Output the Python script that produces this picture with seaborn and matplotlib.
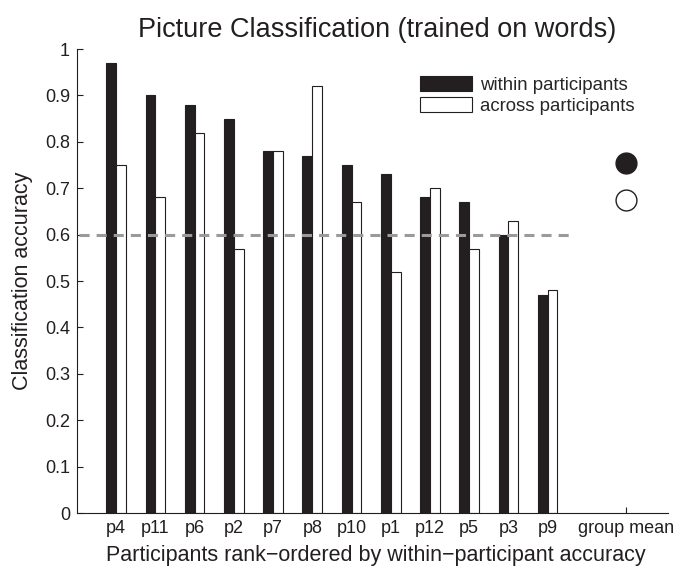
import matplotlib
matplotlib.use("Agg")
import matplotlib.pyplot as plt
import numpy as np
import pandas as pd
import seaborn as sns

participants = ["p4", "p11", "p6", "p2", "p7", "p8", "p10", "p1", "p12", "p5", "p3", "p9"]
within = [0.97, 0.90, 0.88, 0.85, 0.78, 0.77, 0.75, 0.73, 0.68, 0.67, 0.60, 0.47]
across = [0.75, 0.68, 0.82, 0.57, 0.78, 0.92, 0.67, 0.52, 0.70, 0.57, 0.63, 0.48]
group_mean_within = 0.754
group_mean_across = 0.674
chance = 0.6
series_labels = ["within participants", "across participants"]
yticks = [0, 0.1, 0.2, 0.3, 0.4, 0.5, 0.6, 0.7, 0.8, 0.9, 1]
ytick_labels = ["0", "0.1", "0.2", "0.3", "0.4", "0.5", "0.6", "0.7", "0.8", "0.9", "1"]
group_label = "group mean"

sns.set_style("white")
plt.rcParams["font.family"] = ["Liberation Sans", "DejaVu Sans"]

INK = "#231f20"

df = pd.DataFrame({
    "participant": participants * 2,
    "condition": [series_labels[0]] * len(participants) + [series_labels[1]] * len(participants),
    "accuracy": within + across,
})

order = participants + [" ", group_label]

W, H = 686, 570
L, R, B, T = 77, 668, 513, 49
fig = plt.figure(figsize=(W / 100, H / 100), dpi=100)
ax = fig.add_axes([L / W, (H - B) / H, (R - L) / W, (B - T) / H])

sns.barplot(data=df, x="participant", y="accuracy", hue="condition", order=order,
            hue_order=series_labels, palette=[INK, "white"], width=0.5,
            edgecolor=INK, linewidth=0.8, saturation=1, ax=ax, legend=True)

gm_x = order.index(group_label)
ax.plot([gm_x], [group_mean_within], "o", ms=15, mfc=INK, mec=INK, mew=1, zorder=5)
ax.plot([gm_x], [group_mean_across], "o", ms=15, mfc="white", mec=INK, mew=1, zorder=5)

ax.axhline(chance, xmin=0.004, xmax=0.841, color="#9a9a9a", lw=2.2,
           ls=(0, (3.3, 2.3)), zorder=6)

ax.set_xlim(-1.0, 14.07)
ax.set_ylim(0, 1)
ax.set_yticks(yticks, ytick_labels)
xt = [i for i, c in enumerate(order) if c.strip()]
ax.set_xticks(xt, [order[i] for i in xt])
ax.tick_params(direction="in", length=4, width=0.8, labelsize=13, colors=INK,
               bottom=True, left=True, top=False, right=False)
ax.tick_params(axis="y", pad=5)
ax.tick_params(axis="x", pad=5)

for s in ["top", "right"]:
    ax.spines[s].set_visible(False)
for s in ["left", "bottom"]:
    ax.spines[s].set_color(INK)
    ax.spines[s].set_linewidth(0.8)

ax.set_xlabel("Participants rank\u2212ordered by within\u2212participant accuracy",
              fontsize=15.5, color=INK)
ax.set_ylabel("Classification accuracy", fontsize=15.5, color=INK)
ax.xaxis.set_label_coords((376 - L) / (R - L), -0.068)
ax.yaxis.set_label_coords((33 - L) / (R - L), 0.5)

fig.text(377 / W, 1 - 30 / H, "Picture Classification (trained on words)",
         ha="center", va="center", fontsize=19.5, color=INK)

handles, labels = ax.get_legend_handles_labels()
ax.legend(handles, labels, frameon=False, loc="upper left",
          bbox_to_anchor=(420 / W, 1 - 76 / H), bbox_transform=fig.transFigure,
          borderpad=0, borderaxespad=0, handlelength=2.8, handleheight=0.86,
          handletextpad=0.45, labelspacing=0.15, fontsize=13.4)

fig.savefig("out.png", dpi=100)
